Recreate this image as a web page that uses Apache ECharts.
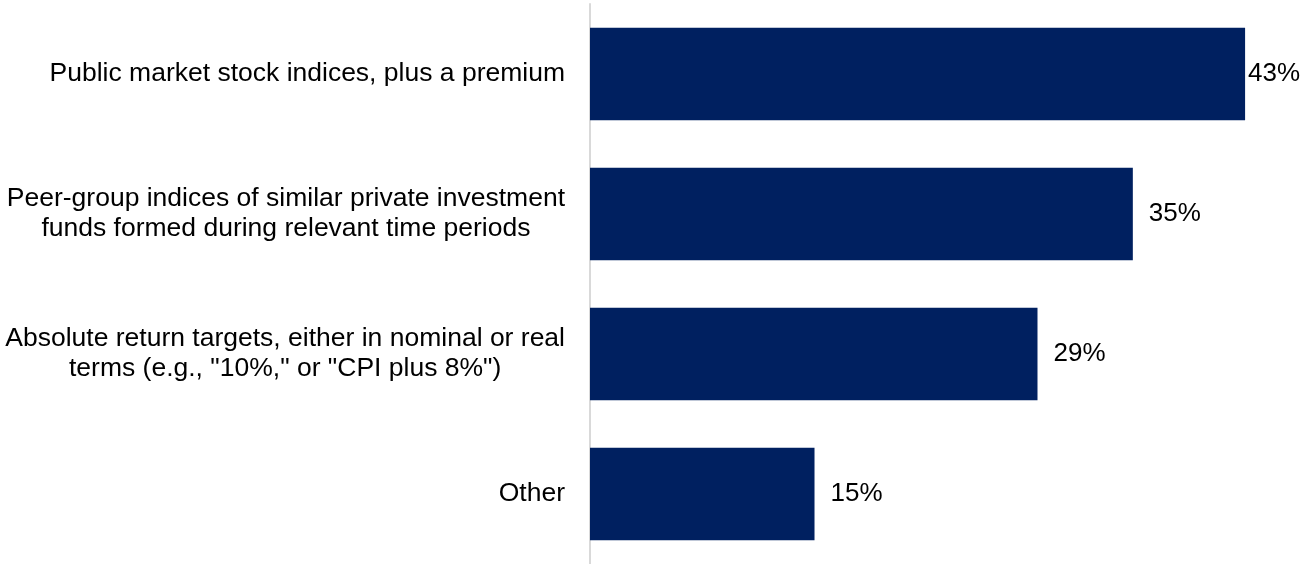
<!DOCTYPE html>
<html>
<head>
<meta charset="utf-8">
<script src="https://cdn.jsdelivr.net/npm/echarts@6/dist/echarts.min.js"></script>
<style>html,body{margin:0;padding:0;background:#fff;}#c{width:1303px;height:564px;}</style>
</head>
<body>
<div id="c"></div>
<script>
const categories = [
  'Public market stock indices, plus a premium',
  'Peer-group indices of similar private investment\nfunds formed during relevant time periods',
  'Absolute return targets, either in nominal or real\nterms (e.g., "10%," or "CPI plus 8%")',
  'Other'
];
const values = [42.6, 35.3, 29.1, 14.6];

const chart = echarts.init(document.getElementById('c'), null, {renderer: 'canvas'});
const font = '"Liberation Sans", Arial, sans-serif';
chart.setOption({
  animation: false,
  backgroundColor: '#ffffff',
  grid: {left: 590, right: 21, top: 4, bottom: -3, containLabel: false},
  xAxis: {
    type: 'value', min: 0, max: 45,
    show: false
  },
  yAxis: {
    type: 'category',
    inverse: true,
    data: categories,
    axisLine: {show: true, lineStyle: {color: '#d9d9d9', width: 2}},
    axisTick: {show: false},
    axisLabel: {
      margin: 25,
      color: '#000000',
      fontFamily: font,
      fontSize: 26.5,
      lineHeight: 30,
      align: 'right',
      formatter: function (v) {
        return v.split('\n').map(function (l) { return '{c|' + l + '}'; }).join('\n');
      },
      rich: {c: {align: 'center', fontFamily: font, fontSize: 26.5, lineHeight: 30, color: '#000000'}}
    }
  },
  series: [{
    type: 'bar',
    data: values.map(function (v, i) {
      return i === 0 ? {value: v, label: {distance: 3}} : v;
    }),
    barCategoryGap: '34%',
    itemStyle: {color: '#002060'},
    label: {
      show: true,
      position: 'right',
      distance: 16,
      color: '#000000',
      fontFamily: font,
      fontSize: 26,
      formatter: function (p) { return Math.round(p.value) + '%'; }
    }
  }]
});
</script>
</body>
</html>
